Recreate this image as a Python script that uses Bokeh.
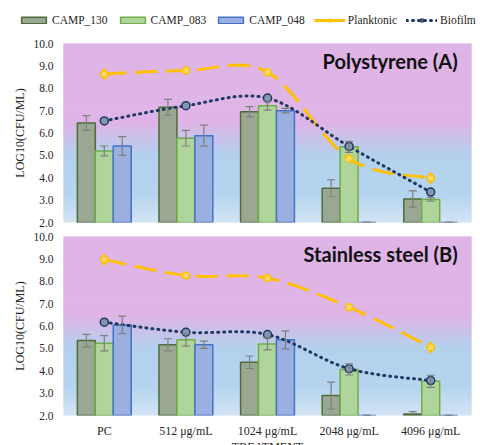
from bokeh.plotting import figure
from bokeh.layouts import column
from bokeh.models import (ColumnDataSource, Range1d, FactorRange, Whisker, TeeHead,
                          Legend, LegendItem, Label, FixedTicker, PrintfTickFormatter)
from bokeh.transform import dodge
from bokeh.embed import file_html
from bokeh.resources import INLINE
import numpy as np

# ---------------- data ----------------
cats = ["PC", "512 μg/mL", "1024 μg/mL", "2048 μg/mL", "4096 μg/mL"]

a_camp130 = [6.45, 7.15, 6.95, 3.53, 3.05]
a_camp130_err = [0.33, 0.35, 0.23, 0.38, 0.36]
a_camp083 = [5.20, 5.77, 7.22, 5.38, 3.03]
a_camp083_err = [0.22, 0.35, 0.20, 0.25, 0.08]
a_camp048 = [5.42, 5.88, 7.00, 2.00, 2.00]
a_camp048_err = [0.42, 0.47, 0.10, 0.02, 0.02]
a_plank = [8.64, 8.79, 8.72, 4.85, 3.98]
a_bio = [6.54, 7.22, 7.56, 5.40, 3.36]

b_camp130 = [5.35, 5.16, 4.38, 2.89, 2.07]
b_camp130_err = [0.28, 0.27, 0.28, 0.60, 0.10]
b_camp083 = [5.23, 5.38, 5.20, 4.06, 3.53]
b_camp083_err = [0.34, 0.28, 0.27, 0.25, 0.27]
b_camp048 = [6.05, 5.16, 5.38, 2.00, 2.00]
b_camp048_err = [0.39, 0.16, 0.40, 0.02, 0.02]
b_plank = [8.97, 8.26, 8.14, 6.84, 5.05]
b_bio = [6.17, 5.72, 5.62, 4.09, 3.56]

y_ticks = [2, 3, 4, 5, 6, 7, 8, 9, 10]
series_names = ["CAMP_130", "CAMP_083", "CAMP_048", "Planktonic", "Biofilm"]

# ---------------- styles ----------------
SERIF = "Liberation Serif"
C130_FILL, C130_LINE = "#9aa893", "#4f6b3c"
C083_FILL, C083_LINE = "#afd59c", "#70ad47"
C048_FILL, C048_LINE = "#9bafe0", "#4472c4"
PLANK = "#ffc000"
PLANK_FILL = "#ffd966"
BIO = "#1f3864"
BIO_FILL = "#8497b0"
ERR = "#7f7f7f"
BAR_W = 0.22
W = 472

bg_stops = [(0.0, "#dfb4e6"), (0.44, "#dfb4e6"), (0.63, "#b3d1ed"),
            (0.85, "#b5d4ee"), (1.0, "#d3e4f4")]


def hex2rgb(h):
    return np.array([int(h[i:i + 2], 16) for i in (1, 3, 5)], dtype=float)


def bg_color(f):
    for (f0, c0), (f1, c1) in zip(bg_stops[:-1], bg_stops[1:]):
        if f0 <= f <= f1:
            t = 0 if f1 == f0 else (f - f0) / (f1 - f0)
            c = hex2rgb(c0) * (1 - t) + hex2rgb(c1) * t
            return "#%02x%02x%02x" % tuple(int(round(v)) for v in c)
    return bg_stops[-1][1]


def smooth(ys, n=24):
    xs = [i + 0.5 for i in range(len(ys))]
    pts = list(zip(xs, ys))
    ox, oy = [], []
    for i in range(len(pts) - 1):
        p0 = pts[i - 1] if i > 0 else pts[i]
        p1, p2 = pts[i], pts[i + 1]
        p3 = pts[i + 2] if i + 2 < len(pts) else pts[i + 1]
        c1 = (p1[0] + (p2[0] - p0[0]) / 6, p1[1] + (p2[1] - p0[1]) / 6)
        c2 = (p2[0] - (p3[0] - p1[0]) / 6, p2[1] - (p3[1] - p1[1]) / 6)
        ts = np.linspace(0, 1, n, endpoint=(i == len(pts) - 2))
        for t in ts:
            a, b, c, d = (1 - t) ** 3, 3 * (1 - t) ** 2 * t, 3 * (1 - t) * t ** 2, t ** 3
            ox.append(a * p1[0] + b * c1[0] + c * c2[0] + d * p2[0])
            oy.append(a * p1[1] + b * c1[1] + c * c2[1] + d * p2[1])
    return ox, oy


def make_panel(title, v130, e130, v083, e083, v048, e048, plank, bio,
               height, top, bottom, show_x):
    p = figure(x_range=FactorRange(*cats, range_padding=0), y_range=Range1d(2, 10),
               width=W, height=height, output_backend="svg", toolbar_location=None,
               min_border_left=63, min_border_right=1, min_border_top=top,
               min_border_bottom=bottom, outline_line_color=None)
    p.xgrid.visible = False
    p.ygrid.visible = False

    # gradient background
    n = 90
    edges = np.linspace(10, 2, n + 1)
    cols = [bg_color((i + 0.5) / n) for i in range(n)]
    bg = p.quad(left=[0] * n, right=[len(cats)] * n, top=edges[:-1], bottom=edges[1:],
                fill_color=cols, line_color=cols, line_width=1)
    bg.level = "underlay"

    src = ColumnDataSource(dict(
        cat=cats, v130=v130, v083=v083, v048=v048,
        u130=[v + e for v, e in zip(v130, e130)], l130=[v - e for v, e in zip(v130, e130)],
        u083=[v + e for v, e in zip(v083, e083)], l083=[v - e for v, e in zip(v083, e083)],
        u048=[v + e for v, e in zip(v048, e048)], l048=[v - e for v, e in zip(v048, e048)],
    ))
    for key, off, fc, lc in [("130", -BAR_W, C130_FILL, C130_LINE),
                             ("083", 0.0, C083_FILL, C083_LINE),
                             ("048", BAR_W, C048_FILL, C048_LINE)]:
        p.vbar(x=dodge("cat", off, range=p.x_range), top="v" + key, bottom=2,
               width=BAR_W, source=src, fill_color=fc, line_color=lc, line_width=1.5)
    for key, off in [("130", -BAR_W), ("083", 0.0), ("048", BAR_W)]:
        w = Whisker(base=dodge("cat", off, range=p.x_range), upper="u" + key,
                    lower="l" + key, source=src, line_color=ERR, line_width=1.2,
                    upper_head=TeeHead(size=8, line_color=ERR, line_width=1.2),
                    lower_head=TeeHead(size=8, line_color=ERR, line_width=1.2))
        w.level = "glyph"
        p.add_layout(w)

    # planktonic (smoothed, long dash)
    px, py = smooth(plank)
    p.line(px, py, line_color=PLANK, line_width=3, line_dash="22 9")
    p.scatter([cats[0], cats[-1]], [plank[0], plank[-1]], marker="diamond", size=12,
              fill_color=PLANK, line_color=PLANK)
    p.scatter(cats, plank, marker="circle", size=7, fill_color=PLANK_FILL,
              line_color=PLANK, line_width=1.5)

    # biofilm (smoothed, dotted)
    bx, by = smooth(bio)
    p.line(bx, by, line_color=BIO, line_width=3, line_dash="1 5", line_cap="round")
    p.scatter(cats, bio, marker="circle", size=8, fill_color=BIO_FILL,
              line_color=BIO, line_width=1.5)

    p.add_layout(Label(x=4.83, y=9.22, text=title, text_align="right",
                       text_baseline="middle", text_font="Lato", text_font_style="bold",
                       text_font_size="20px", text_color="#111111"))

    p.yaxis.ticker = FixedTicker(ticks=y_ticks)
    p.yaxis.formatter = PrintfTickFormatter(format="%.1f")
    p.yaxis.axis_label = "LOG10(CFU/ML)"
    p.yaxis.axis_label_text_font = SERIF
    p.yaxis.axis_label_text_font_style = "normal"
    p.yaxis.axis_label_text_font_size = "12px"
    p.yaxis.axis_label_text_color = "#262626"
    p.yaxis.axis_label_standoff = 3
    p.yaxis.major_label_text_font = SERIF
    p.yaxis.major_label_text_font_size = "11.5px"
    p.yaxis.major_label_text_color = "#262626"
    p.yaxis.major_label_standoff = 10
    p.yaxis.axis_line_color = None
    p.yaxis.major_tick_line_color = None
    p.yaxis.minor_tick_line_color = None
    p.yaxis.major_tick_out = 0
    p.yaxis.major_tick_in = 0

    if show_x:
        p.xaxis.axis_label = "TREATMENT"
        p.xaxis.axis_label_text_font = SERIF
        p.xaxis.axis_label_text_font_style = "normal"
        p.xaxis.axis_label_text_font_size = "12px"
        p.xaxis.axis_label_text_color = "#262626"
        p.xaxis.axis_label_standoff = -1
        p.xaxis.major_label_text_font = SERIF
        p.xaxis.major_label_text_font_size = "12px"
        p.xaxis.major_label_text_color = "#262626"
        p.xaxis.major_label_standoff = 8
        p.xaxis.axis_line_color = None
        p.xaxis.major_tick_line_color = None
        p.xaxis.major_tick_out = 0
        p.xaxis.major_tick_in = 0
    else:
        p.xaxis.visible = False
    return p


# ---------------- legend strip ----------------
# hidden proxy renderers (first value of each series) only supply the legend swatches
lg = figure(width=480, height=30, x_range=Range1d(0, 1), y_range=Range1d(0, 10),
            output_backend="svg", toolbar_location=None, min_border=0,
            min_border_left=0, min_border_right=0, min_border_top=0, min_border_bottom=0,
            x_axis_location=None, y_axis_location=None, outline_line_color=None)
lg.grid.visible = False
r130 = lg.vbar(x=[0.5], top=[a_camp130[0]], width=0.1,
               fill_color=C130_FILL, line_color=C130_LINE, line_width=1.5)
r083 = lg.vbar(x=[0.5], top=[a_camp083[0]], width=0.1,
               fill_color=C083_FILL, line_color=C083_LINE, line_width=1.5)
r048 = lg.vbar(x=[0.5], top=[a_camp048[0]], width=0.1,
               fill_color=C048_FILL, line_color=C048_LINE, line_width=1.5)
rpl = lg.line(x=[0.4, 0.6], y=[a_plank[0], a_plank[1]], line_color=PLANK, line_width=3)
rpc = lg.scatter(x=[0.5], y=[a_plank[0]], marker="circle", size=7, fill_color=PLANK_FILL,
                 line_color=PLANK, line_width=1.5)
rbl = lg.line(x=[0.4, 0.6], y=[a_bio[0], a_bio[1]], line_color=BIO, line_width=3,
              line_dash="1 5", line_cap="round")
rbc = lg.scatter(x=[0.5], y=[a_bio[0]], marker="circle", size=8, fill_color=BIO_FILL,
                 line_color=BIO, line_width=1.5)
for r in (r130, r083, r048, rpl, rpc, rbl, rbc):
    r.visible = False
legend = Legend(items=[
    LegendItem(label=series_names[0], renderers=[r130]),
    LegendItem(label=series_names[1], renderers=[r083]),
    LegendItem(label=series_names[2], renderers=[r048]),
    LegendItem(label=series_names[3], renderers=[rpl, rpc]),
    LegendItem(label=series_names[4], renderers=[rbl, rbc]),
], orientation="horizontal", location=(18, 4), glyph_width=31,
    glyph_height=8, label_standoff=3, spacing=9, padding=0, margin=0,
    label_text_font=SERIF, label_text_font_size="11.5px",
    label_text_color="#262626", background_fill_alpha=0,
    border_line_alpha=0, label_height=12, inactive_fill_alpha=0)
lg.add_layout(legend)

p1 = make_panel("Polystyrene (A)", a_camp130, a_camp130_err, a_camp083, a_camp083_err,
                a_camp048, a_camp048_err, a_plank, a_bio,
                height=199, top=13, bottom=7, show_x=False)
p2 = make_panel("Stainless steel (B)", b_camp130, b_camp130_err, b_camp083, b_camp083_err,
                b_camp048, b_camp048_err, b_plank, b_bio,
                height=229, top=7, bottom=43, show_x=True)

panels = column(p1, p2, spacing=0, height=415, styles={"overflow": "hidden"})
open("out.html", "w").write(file_html([lg, panels], INLINE))
